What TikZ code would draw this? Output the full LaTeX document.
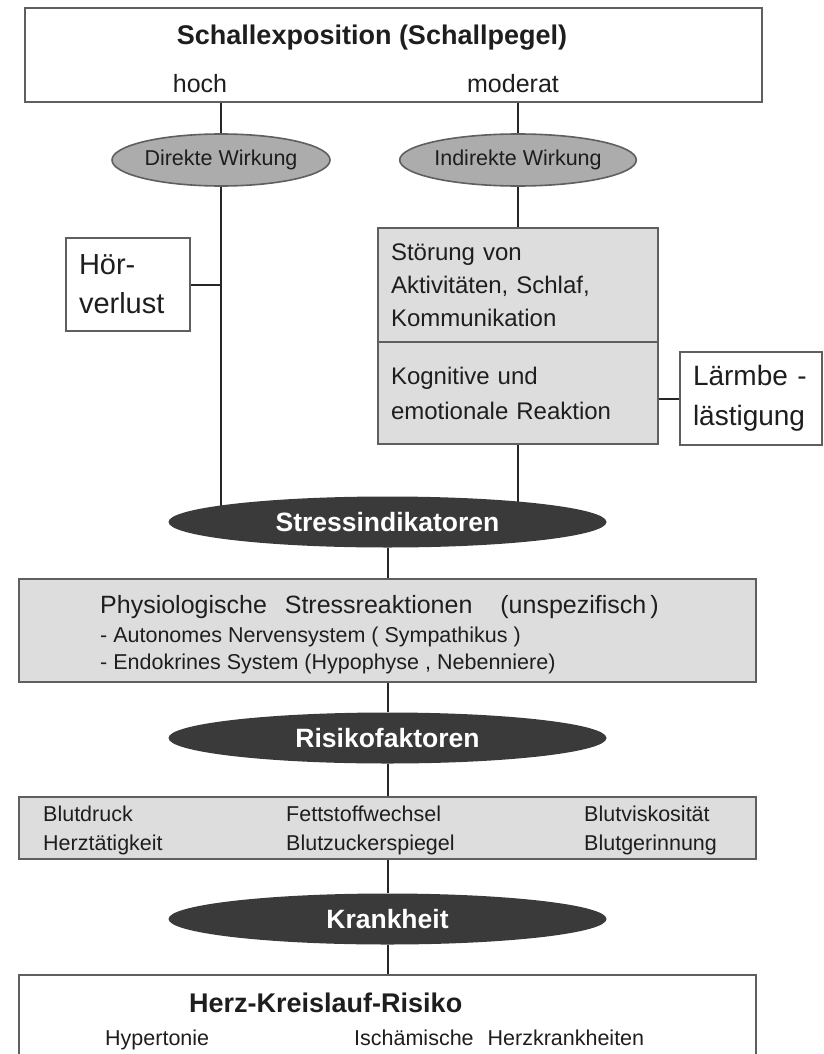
\documentclass[tikz,border=0pt]{standalone}
\usepackage{fontspec}
\setmainfont{Liberation Sans}
\usepackage{xcolor}
\usepackage{tikz}
\usetikzlibrary{positioning, shapes, backgrounds}

\definecolor{boxgray}{RGB}{221,221,221}
\definecolor{ovalgray}{RGB}{172,172,172}
\definecolor{ovaldark}{RGB}{58,58,58}
\definecolor{edgegray}{RGB}{95,95,95}
\definecolor{inkgray}{RGB}{30,30,30}

\begin{document}
\begin{tikzpicture}[x=1pt, y=-1pt,
    every node/.style={text=inkgray, inner sep=0pt},
    frame/.style={draw=edgegray, line width=1.6pt, fill=white},
    graybox/.style={frame, fill=boxgray},
    lightoval/.style={ellipse, draw=edgegray, fill=ovalgray, line width=1.6pt, minimum width=218pt, minimum height=52pt, font=\fontsize{21.5}{24}\selectfont},
    darkoval/.style={ellipse, fill=ovaldark, minimum width=438pt, minimum height=51pt, text=white, font=\fontsize{26.5}{30}\selectfont\bfseries},
    link/.style={draw=black!85, line width=2pt}]
      \useasboundingbox (0,0) rectangle (823,1054);
      \clip (0,0) rectangle (823,1054);

      % Schallexposition
      \node[frame, minimum width=737pt, minimum height=94pt] (top) at (393.5,55) {};
      \node[anchor=base, font=\fontsize{27}{30}\selectfont\bfseries] (title) at (372,45) {Schallexposition (Schallpegel)};
      \node[anchor=base, font=\fontsize{25}{28}\selectfont] (hoch) at (200,93) {hoch};
      \node[anchor=base, font=\fontsize{25}{28}\selectfont] (moderat) at (513,93) {moderat};

      % direkte / indirekte Wirkung
      \node[lightoval] (dir) at (221,160) {Direkte Wirkung};
      \node[lightoval] (indir) at (518,160) {Indirekte Wirkung};

      \node[frame, minimum width=124pt, minimum height=93pt, text width=98pt, align=left, font=\fontsize{29}{39}\selectfont] (hoer) at (128,284.5) {Hör-\\verlust};

      \node[graybox, minimum width=280pt, minimum height=114pt, text width=254pt, align=left, font=\fontsize{24}{33}\selectfont] (stoer) at (518,285) {Störung von\\Aktivitäten, Schlaf,\\Kommunikation};
      \node[graybox, minimum width=280pt, minimum height=102pt, text width=254pt, align=left, font=\fontsize{24}{35}\selectfont] (kogn) at (518,393) {Kognitive und\\emotionale Reaktion};
      \node[frame, minimum width=142pt, minimum height=93pt, text width=116pt, align=left, font=\fontsize{28}{40}\selectfont] (laerm) at (751,398.5) {Lärmbe -\\lästigung};

      % Stressindikatoren
      \node[darkoval] (stress) at (387.5,522) {Stressindikatoren};
      \node[graybox, minimum width=737pt, minimum height=103pt] (physio) at (387.5,630.5) {};
      \node[anchor=base west, font=\fontsize{25}{28}\selectfont] (physA) at (100,613) {Physiologische\hspace{11pt} Stressreaktionen\hspace{21pt} (unspezifisch\,)};
      \node[anchor=base west, font=\fontsize{21.5}{24}\selectfont] (physB) at (100,642) {- Autonomes Nervensystem ( Sympathikus )};
      \node[anchor=base west, font=\fontsize{21.5}{24}\selectfont] (physC) at (100,669) {- Endokrines System (Hypophyse , Nebenniere)};

      % Risikofaktoren
      \node[darkoval] (risiko) at (387.5,738) {Risikofaktoren};
      \node[graybox, minimum width=737pt, minimum height=62pt] (faktoren) at (387.5,828) {};
      \node[anchor=west, align=left, font=\fontsize{21.5}{29}\selectfont] (colA) at (43,830) {Blutdruck\\Herztätigkeit};
      \node[anchor=west, align=left, font=\fontsize{21.5}{29}\selectfont] (colB) at (286,830) {Fettstoffwechsel\\Blutzuckerspiegel};
      \node[anchor=west, align=left, font=\fontsize{21.5}{29}\selectfont] (colC) at (584,830) {Blutviskosität\\Blutgerinnung};

      % Krankheit
      \node[darkoval] (krank) at (387.5,919) {Krankheit};
      \node[frame, minimum width=737pt, minimum height=100pt] (herz) at (387.5,1025) {};
      \node[anchor=base west, font=\fontsize{27}{30}\selectfont\bfseries] (herztitle) at (189,1012) {Herz-Kreislauf-Risiko};
      \node[anchor=base west, font=\fontsize{21.5}{24}\selectfont] (hyper) at (105,1045) {Hypertonie};
      \node[anchor=base west, font=\fontsize{21.5}{24}\selectfont] (isch) at (354,1045) {Ischämische\hspace{8pt} Herzkrankheiten};

      \begin{scope}[on background layer]
        \draw[link] (top.south -| dir) -- (dir);
        \draw[link] (dir) -- (dir |- stress);
        \draw[link] (hoer.east) -- (hoer.east -| dir);
        \draw[link] (top.south -| indir) -- (indir);
        \draw[link] (indir) -- (stoer.north);
        \draw[link] (kogn.south) -- (kogn.south |- stress);
        \draw[link] (laerm.west) -- (laerm.west -| kogn.east);
        \draw[link] (stress) -- (physio);
        \draw[link] (physio) -- (risiko);
        \draw[link] (risiko) -- (faktoren);
        \draw[link] (faktoren) -- (krank);
        \draw[link] (krank) -- (herz);
      \end{scope}
    \end{tikzpicture}
\end{document}
